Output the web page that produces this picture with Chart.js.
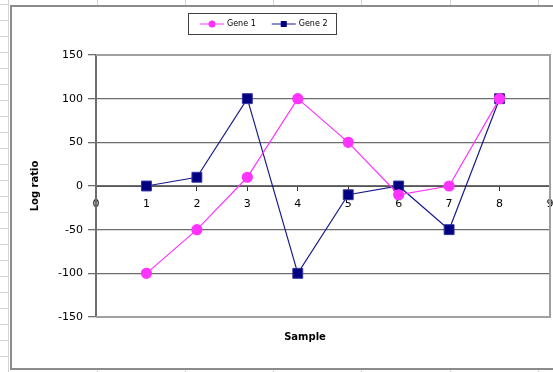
<!DOCTYPE html>
<html>
<head>
<meta charset="utf-8">
<script src="https://cdn.jsdelivr.net/npm/chart.js@4.4.0/dist/chart.umd.min.js"></script>
<style>
  html, body { margin: 0; padding: 0; background: #fff; overflow: hidden; }
  /* a few px wider than the window: the "9" label padding then lands off-screen */
  #wrap { width: 558px; height: 372px; position: relative; }
</style>
</head>
<body>
<div id="wrap"><canvas id="chart"></canvas></div>
<script>
// data
const samples = [1, 2, 3, 4, 5, 6, 7, 8];
const gene1 = [-100, -50, 10, 100, 50, -10, 0, 100];
const gene2 = [0, 10, 100, -100, -10, 0, -50, 100];
const seriesNames = ["Gene 1", "Gene 2"];
const yTicks = [-150, -100, -50, 0, 50, 100, 150];

const FONT = "'DejaVu Sans', Verdana, sans-serif";

// spreadsheet cells behind the chart + chart area frame
const sheetBg = {
  id: "sheetBg",
  beforeDraw(chart) {
    const ctx = chart.ctx;
    const w = chart.width, h = chart.height;
    ctx.save();
    ctx.fillStyle = "#fff";
    ctx.fillRect(0, 0, w, h);
    ctx.strokeStyle = "#d4d4d4";
    ctx.lineWidth = 1;
    ctx.beginPath();
    for (let y = 4.5; y < h; y += 16) { ctx.moveTo(0, y); ctx.lineTo(9, y); }
    ctx.moveTo(8.5, 0); ctx.lineTo(8.5, h);
    for (let x = 96.5; x < w; x += 88.3) {
      ctx.moveTo(Math.round(x) + 0.5, 0); ctx.lineTo(Math.round(x) + 0.5, 5);
      ctx.moveTo(Math.round(x) + 0.5, 370); ctx.lineTo(Math.round(x) + 0.5, h);
    }
    ctx.stroke();
    // chart area border
    ctx.strokeStyle = "#8c8c8c";
    ctx.lineWidth = 2;
    ctx.strokeRect(11, 6, w + 10, 363);
    ctx.restore();
  },
  beforeDatasetsDraw(chart) {
    const a = chart.chartArea, ctx = chart.ctx;
    ctx.save();
    ctx.strokeStyle = "#a0a0a0";
    ctx.lineWidth = 2;
    ctx.beginPath();
    ctx.moveTo(a.left, a.top); ctx.lineTo(a.right, a.top);
    ctx.lineTo(a.right, a.bottom); ctx.lineTo(a.left, a.bottom);
    ctx.stroke();
    ctx.restore();
  }
};

// Excel style legend: line + marker + label, in a framed box
const excelLegend = {
  id: "excelLegend",
  afterDraw(chart) {
    const ctx = chart.ctx;
    const sets = chart.data.datasets;
    ctx.save();
    ctx.font = "8px " + FONT;
    const boxL = 188, boxT = 13, boxW = 148, boxH = 21;
    ctx.strokeStyle = "#404040";
    ctx.lineWidth = 1;
    ctx.strokeRect(boxL + 0.5, boxT + 0.5, boxW, boxH);
    let x = boxL + 12;
    const cy = boxT + 11;
    sets.forEach(ds => {
      ctx.strokeStyle = ds.borderColor;
      ctx.lineWidth = 1;
      ctx.beginPath(); ctx.moveTo(x, cy); ctx.lineTo(x + 24, cy); ctx.stroke();
      ctx.fillStyle = ds.pointBackgroundColor;
      if (ds.pointStyle === "circle") {
        ctx.beginPath(); ctx.arc(x + 12, cy, 3.5, 0, Math.PI * 2); ctx.fill();
      } else {
        ctx.fillRect(x + 9, cy - 3, 6, 6);
      }
      ctx.fillStyle = "#000";
      ctx.textBaseline = "middle";
      ctx.fillText(ds.label, x + 27, cy);
      x += 27 + ctx.measureText(ds.label).width + 16;
    });
    ctx.restore();
  }
};

new Chart(document.getElementById("chart"), {
  type: "line",
  data: {
    datasets: [
      {
        label: seriesNames[0],
        data: samples.map((s, i) => ({ x: s, y: gene1[i] })),
        borderColor: "#ff33ff",
        backgroundColor: "#ff33ff",
        pointBackgroundColor: "#ff33ff",
        pointBorderColor: "#ff33ff",
        pointStyle: "circle",
        pointRadius: 5,
        borderWidth: 1.2,
        tension: 0
      },
      {
        label: seriesNames[1],
        data: samples.map((s, i) => ({ x: s, y: gene2[i] })),
        borderColor: "#1a1a8c",
        backgroundColor: "#000080",
        pointBackgroundColor: "#000080",
        pointBorderColor: "#3333a0",
        pointBorderWidth: 1,
        pointStyle: "rect",
        pointRadius: 7,
        borderWidth: 1.2,
        tension: 0
      }
    ]
  },
  options: {
    responsive: true,
    maintainAspectRatio: false,
    animation: false,
    // left padding shifts the bottom title so it sits where Excel put it
    layout: { padding: { top: 55, right: 2, left: 54, bottom: 0 } },
    scales: {
      x: {
        type: "linear",
        position: { y: 0 },
        min: 0,
        max: 9,
        afterFit(axis) { axis.paddingLeft = 0; axis.paddingRight = 0; },
        ticks: { stepSize: 1, color: "#000", font: { family: FONT, size: 11 }, padding: 8 },
        grid: { drawOnChartArea: false, drawTicks: true, tickLength: 4, color: "#333" },
        border: { color: "#555", width: 1 }
      },
      y: {
        min: -150,
        max: 150,
        afterBuildTicks(axis) { axis.ticks = yTicks.map(v => ({ value: v })); },
        afterFit(axis) { axis.width = 42; axis.paddingTop = 0; axis.paddingBottom = 0; },
        ticks: { color: "#000", font: { family: FONT, size: 11 }, padding: 5 },
        grid: { color: "#6e6e6e", lineWidth: 1.3, tickLength: 8 },
        border: { color: "#6e6e6e", width: 2 },
        title: { display: true, text: "Log ratio", color: "#000", font: { family: FONT, size: 10, weight: "bold" }, padding: { top: -25, bottom: 0 } }
      }
    },
    plugins: {
      legend: { display: false },
      tooltip: { enabled: false },
      title: {
        display: true,
        position: "bottom",
        text: "Sample",
        color: "#000",
        font: { family: FONT, size: 10, weight: "bold" },
        padding: { top: 14, bottom: 29 }
      }
    }
  },
  plugins: [sheetBg, excelLegend]
});
</script>
</body>
</html>
